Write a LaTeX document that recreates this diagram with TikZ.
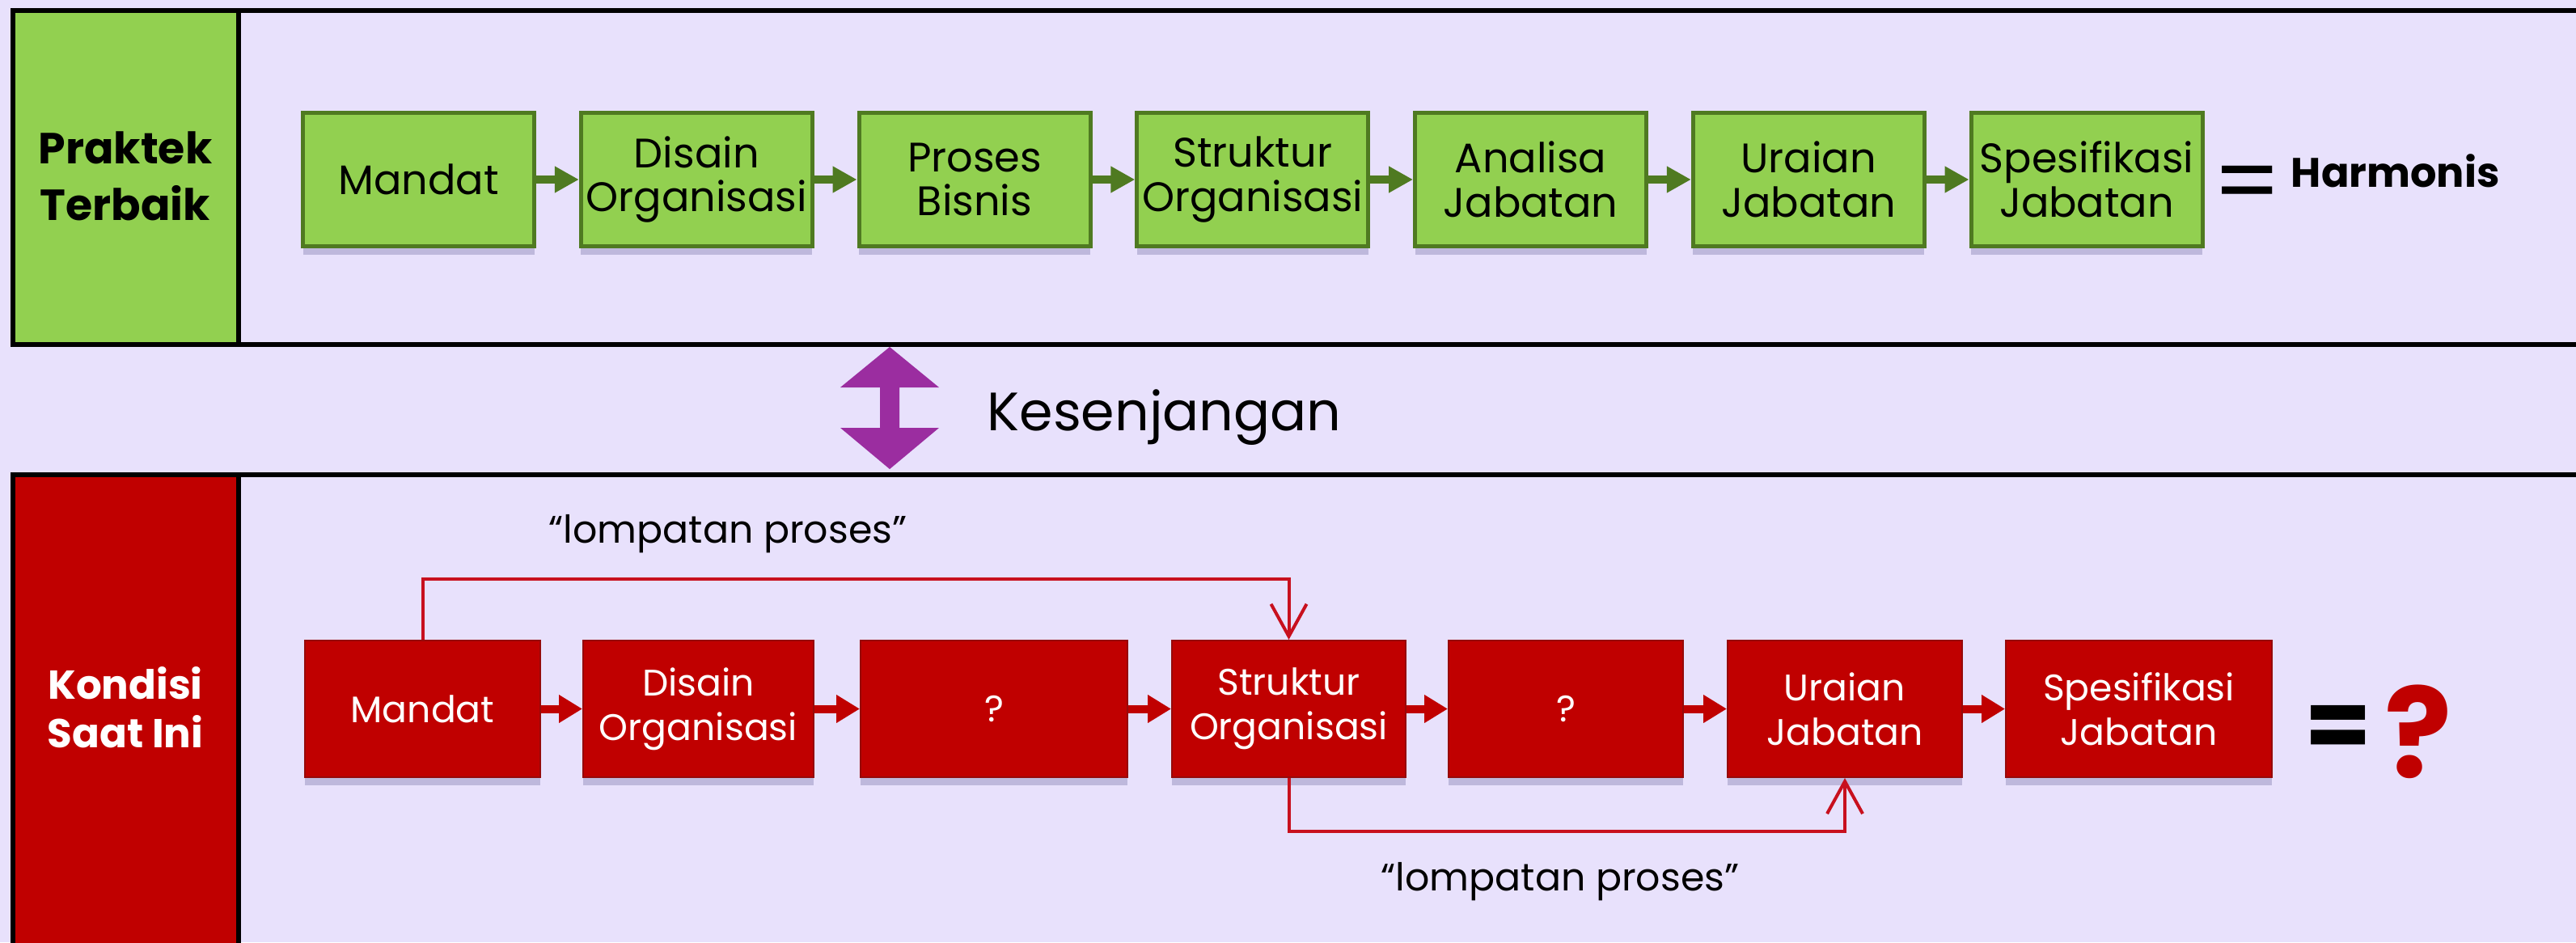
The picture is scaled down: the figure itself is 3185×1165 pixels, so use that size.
\documentclass[tikz,border=0pt]{standalone}
\usepackage{fontspec}
\setmainfont{Poppins}
\usetikzlibrary{positioning,arrows.meta,shadows}

\definecolor{latar}{RGB}{232,225,252}
\definecolor{hijau}{RGB}{146,208,80}
\definecolor{hijautua}{RGB}{79,122,33}
\definecolor{merah}{RGB}{192,0,0}
\definecolor{merahtua}{RGB}{150,10,10}
\definecolor{garis}{RGB}{200,16,30}
\definecolor{ungu}{RGB}{155,45,160}

\begin{document}
\begin{tikzpicture}[x=0.1mm, y=-0.1mm,
bayang/.style = {drop shadow={shadow xshift=0mm, shadow yshift=-1mm, opacity=.18, fill=black!70!blue}},
kotakH/.style = {draw=hijautua, line width=.5mm, fill=hijau, bayang,
	minimum width=28.6mm, minimum height=16.5mm, inner sep=0pt, align=center,
	font=\fontsize{14.5}{15.6}\selectfont},
kotakM/.style = {draw=merahtua, line width=.2mm, fill=merah, text=white, bayang,
	minimum height=16.9mm, inner sep=0pt, align=center,
	font=\fontsize{13}{15.6}\selectfont},
panahH/.style = {draw=hijautua, line width=1mm, -{Triangle[length=3mm,width=3.1mm]}},
panahM/.style = {draw=merah, line width=1mm, -{Triangle[length=2.9mm,width=3.3mm]}},
lompat/.style = {draw=garis, line width=.4mm, -{Straight Barb[length=4mm,width=4.4mm]}}
]
\useasboundingbox (0,0) rectangle (3185,1165);
\clip (0,0) rectangle (3185,1165);
\fill[latar] (0,0) rectangle (3185,1165);

% panel atas dan bawah
\draw[line width=.6mm] (16,13) rectangle (3230,426);
\draw[line width=.6mm, fill=hijau] (16,13) rectangle (295,426);
\draw[line width=.6mm] (16,587) rectangle (3230,1220);
\draw[line width=.6mm, fill=merah] (16,587) rectangle (295,1220);

\node[font=\fontsize{15.3}{20}\bfseries\selectfont, align=center] (praktek) at (155,218) {Praktek\\Terbaik};
\node[font=\fontsize{14.2}{17}\bfseries\selectfont, align=center, text=white] (kondisi) at (155,875) {Kondisi\\Saat Ini};

% praktek terbaik
\foreach \n/\t [count=\i from 0] in {h1/Mandat, h2/{Disain\\Organisasi}, h3/{Proses\\Bisnis},
	h4/{Struktur\\Organisasi}, h5/{Analisa\\Jabatan}, h6/{Uraian\\Jabatan}, h7/{Spesifikasi\\Jabatan}}
	\node[kotakH] (\n) at ({517.5+343.75*\i},222) {\t};
\foreach \a/\b in {h1/h2, h2/h3, h3/h4, h4/h5, h5/h6, h6/h7}
	\draw[panahH] (\a) -- (\b);

\node[font=\fontsize{34}{34}\selectfont] (samaH) at (2779,236) {=};
\node[anchor=west, font=\fontsize{14.5}{15}\bfseries\selectfont, inner sep=0pt] (harmonis) at (2832,211) {Harmonis};

% kesenjangan
\coordinate (celah) at (1100,504);
\fill[ungu, shift={(celah)}] (0,-75) -- (61,-25) -- (12,-25) -- (12,25) -- (61,25) -- (0,76)
	-- (-61,25) -- (-12,25) -- (-12,-25) -- (-61,-25) -- cycle;
\node[anchor=base west, inner sep=0pt, font=\fontsize{19}{19}\selectfont] (kesenjangan) at (1220,532) {Kesenjangan};

% kondisi saat ini
\foreach \n/\t/\x/\w in {m1/Mandat/522.5/29.1, m2/{Disain\\Organisasi}/863.5/28.5, m3/?/1229/33,
	m4/{Struktur\\Organisasi}/1593.5/28.9, m5/?/1936/29, m6/{Uraian\\Jabatan}/2281/29, m7/{Spesifikasi\\Jabatan}/2644.5/32.9}
	\node[kotakM, minimum width=\w mm] (\n) at (\x,876.5) {\t};
\foreach \a/\b in {m1/m2, m2/m3, m3/m4, m4/m5, m5/m6, m6/m7}
	\draw[panahM] (\a) -- (\b);

\draw[lompat] (m1.north) -- ++(0,-75) -| (m4.north);
\draw[lompat] (m4.south) -- ++(0,66) -| (m6.south);
\node[font=\fontsize{13.5}{14}\selectfont] (lompatA) at (900,660) {“lompatan proses”};
\node[font=\fontsize{13.5}{14}\selectfont] (lompatB) at (1929,1090) {“lompatan proses”};

\node[font=\fontsize{34}{34}\bfseries\selectfont] (samaM) at (2891,905) {=};
\node[text=merah, font=\fontsize{44}{44}\bfseries\selectfont] (tanya) at (2990,905) {?};
\end{tikzpicture}
\end{document}
